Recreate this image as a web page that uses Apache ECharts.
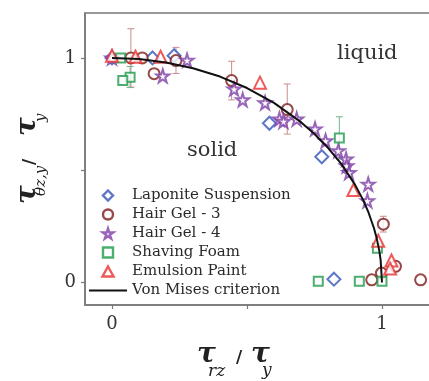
<!DOCTYPE html>
<html><head><meta charset="utf-8">
<script src="https://cdn.jsdelivr.net/npm/echarts@6/dist/echarts.min.js"></script>
<style>html,body{margin:0;padding:0;background:#fff}#c{width:429px;height:381px}</style>
</head><body><div id="c"></div>
<script>
// ---- data ----
const seriesNames = ['Laponite Suspension', 'Hair Gel - 3', 'Hair Gel - 4', 'Shaving Foam', 'Emulsion Paint', 'Von Mises criterion'];
const laponite = [[0.0,1.0],[0.15,1.0],[0.23,1.01],[0.583,0.709],[0.777,0.56],[0.822,0.015]];
const hairGel3 = [[0.07,1.0],[0.112,1.0],[0.156,0.93],[0.237,0.988],[0.443,0.899],[0.649,0.77],[1.005,0.26],[1.05,0.072],[0.998,0.042],[0.962,0.012],[1.143,0.012]];
const hairGel4 = [[0.0,1.0],[0.188,0.92],[0.278,0.99],[0.452,0.862],[0.484,0.814],[0.567,0.80],[0.62,0.728],[0.635,0.718],[0.684,0.728],[0.752,0.684],[0.791,0.631],[0.838,0.587],[0.867,0.55],[0.869,0.52],[0.878,0.49],[0.949,0.438],[0.946,0.364]];
const shavingFoam = [[0.032,1.0],[0.067,0.914],[0.04,0.90],[0.842,0.643],[0.983,0.153],[0.764,0.006],[0.916,0.006],[1.0,0.006]];
const emulsionPaint = [[0.0,1.01],[0.087,1.005],[0.18,1.005],[0.548,0.89],[0.894,0.412],[0.986,0.186],[1.035,0.098],[1.03,0.062]];
const vonMisesX = [0,0.1,0.2,0.3,0.4,0.5,0.6,0.7,0.75,0.8,0.85,0.9,0.93,0.95,0.97,0.98,0.99,0.995,1.0];
const vonMisesY = [1.0,0.995,0.98,0.954,0.917,0.866,0.8,0.714,0.661,0.6,0.527,0.436,0.368,0.312,0.243,0.199,0.141,0.1,0.0];
// error bars: [x, low, high]
const hairGel3Err = [[0.07,0.87,1.13],[0.237,0.931,1.047],[0.443,0.813,0.985],[0.649,0.661,0.884],[1.005,0.225,0.295]];
const shavingFoamErr = [[0.067,0.868,0.962],[0.842,0.55,0.738]];
const xTickValues = [0, 0.5, 1];
const xLabelValues = [0, 1];
const yTickValues = [0, 0.5, 1];
const yLabelValues = [0, 1];

const colors = ['#3355bb', '#7d1b1b', '#7e3ea6', '#1f9b4c', '#e8312f', '#111111'];
const STAR = 'path://M50,0 L61,35 L98,35 L68,57 L79,91 L50,70 L21,91 L32,57 L2,35 L39,35 Z';
const DIAMOND = 'path://M5,0 L10,5 L5,10 L0,5 Z';
const TRIANGLE = 'path://M5,0 L10,9 L0,9 Z';
const SQUARE = 'path://M0,0 L10,0 L10,10 L0,10 Z';
const CIRCLE = 'circle';
const LINEICON = 'path://M0,0 L38,0 L38,2 L0,2 Z';
const legendIcons = [DIAMOND, CIRCLE, STAR, SQUARE, TRIANGLE, LINEICON];
const SERIF = '"DejaVu Serif", serif';

function errSeries(data, color) {
  return {
    type: 'custom', z: 1, silent: true,
    data: data,
    encode: { x: 0, y: [1, 2] },
    renderItem: function (params, api) {
      const x = api.value(0);
      const p1 = api.coord([x, api.value(1)]);
      const p2 = api.coord([x, api.value(2)]);
      const c = 3.5;
      const st = { stroke: color, lineWidth: 1 };
      return { type: 'group', children: [
        { type: 'line', shape: { x1: p1[0], y1: p1[1], x2: p2[0], y2: p2[1] }, style: st },
        { type: 'line', shape: { x1: p1[0] - c, y1: p1[1], x2: p1[0] + c, y2: p1[1] }, style: st },
        { type: 'line', shape: { x1: p2[0] - c, y1: p2[1], x2: p2[0] + c, y2: p2[1] }, style: st }
      ] };
    }
  };
}
function scat(name, data, symbol, size, color) {
  return {
    name: name, type: 'scatter', data: data, symbol: symbol, symbolSize: size, z: 3,
    itemStyle: { color: '#fff', borderColor: color, borderWidth: 2 }
  };
}
const vonMises = vonMisesX.map((x, i) => [x, vonMisesY[i]]);

const axisCommon = {
  type: 'value', min: -0.1, max: 1.2,
  splitLine: { show: false },
  axisLine: { show: true, onZero: false, lineStyle: { color: '#777', width: 1.5 } },
  axisTick: { show: true, length: 4, lineStyle: { color: '#777', width: 1.2 } },
};

const option = {
  animation: false,
  backgroundColor: '#fff',
  grid: { left: 85, top: 13, right: -7, bottom: 76, show: true, borderColor: '#777', borderWidth: 1.5, containLabel: false, outerBoundsMode: 'none' },
  xAxis: Object.assign({}, axisCommon, {
    axisTick: Object.assign({}, axisCommon.axisTick, { customValues: xTickValues }),
    axisLabel: { customValues: xLabelValues, margin: 10, fontFamily: SERIF, fontSize: 18, color: '#333' }
  }),
  yAxis: Object.assign({}, axisCommon, {
    axisTick: Object.assign({}, axisCommon.axisTick, { customValues: yTickValues }),
    axisLabel: { customValues: yLabelValues, margin: 9, fontFamily: SERIF, fontSize: 18, color: '#333' }
  }),
  legend: {
    data: seriesNames.map((n, i) => ({ name: n, icon: legendIcons[i] })),
    orient: 'vertical', left: 89, top: 188, padding: 0,
    itemWidth: 38, itemHeight: 10, itemGap: 4, symbolKeepAspect: true,
    itemStyle: { borderWidth: 2.4 },
    textStyle: { fontFamily: SERIF, fontSize: 15, color: '#2a2a2a' }
  },
  series: [
    errSeries(hairGel3Err, '#c98c8c'),
    errSeries(shavingFoamErr, '#74b58e'),
    scat(seriesNames[0], laponite, 'diamond', 13, colors[0]),
    scat(seriesNames[1], hairGel3, 'circle', 11, colors[1]),
    scat(seriesNames[2], hairGel4, STAR, 13, colors[2]),
    scat(seriesNames[3], shavingFoam, 'rect', 9, colors[3]),
    scat(seriesNames[4], emulsionPaint, 'triangle', 12, colors[4]),
    { name: seriesNames[5], type: 'line', data: vonMises, symbol: 'none', z: 4,
      lineStyle: { color: colors[5], width: 2 }, itemStyle: { color: colors[5], borderWidth: 0 } }
  ],
  graphic: [
    { type: 'text', x: 337, y: 54, style: { text: 'liquid', font: '21px ' + SERIF, fill: '#333', align: 'left', verticalAlign: 'middle' } },
    { type: 'text', x: 187, y: 151, style: { text: 'solid', font: '21px ' + SERIF, fill: '#333', align: 'left', verticalAlign: 'middle' } },
    // x-axis title
    { type: 'text', x: 197, y: 355, style: { text: 'τ', font: 'italic bold 28px ' + SERIF, fill: '#222', align: 'left', verticalAlign: 'middle' } },
    { type: 'text', x: 208, y: 372, style: { text: 'rz', font: 'italic 17px ' + SERIF, fill: '#222', align: 'left', verticalAlign: 'middle' } },
    { type: 'text', x: 236, y: 358, style: { text: '/', font: 'bold 17px ' + SERIF, fill: '#222', align: 'left', verticalAlign: 'middle' } },
    { type: 'text', x: 251, y: 355, style: { text: 'τ', font: 'italic bold 28px ' + SERIF, fill: '#222', align: 'left', verticalAlign: 'middle' } },
    { type: 'text', x: 262, y: 371, style: { text: 'y', font: 'italic 17px ' + SERIF, fill: '#222', align: 'left', verticalAlign: 'middle' } },
    // y-axis title (rotated)
    { type: 'group', x: 37, y: 205, rotation: Math.PI / 2, children: [
      { type: 'text', x: 1, y: -9.7, style: { text: 'τ', font: 'italic bold 28px ' + SERIF, fill: '#222', align: 'left', verticalAlign: 'middle' } },
      { type: 'text', x: 9, y: 4.5, style: { text: 'θz,y', font: 'italic 15px ' + SERIF, fill: '#222', align: 'left', verticalAlign: 'middle' } },
      { type: 'text', x: 40, y: -7, style: { text: '/', font: 'bold 17px ' + SERIF, fill: '#222', align: 'left', verticalAlign: 'middle' } },
      { type: 'text', x: 69, y: -9.7, style: { text: 'τ', font: 'italic bold 28px ' + SERIF, fill: '#222', align: 'left', verticalAlign: 'middle' } },
      { type: 'text', x: 83, y: 4.5, style: { text: 'y', font: 'italic 15px ' + SERIF, fill: '#222', align: 'left', verticalAlign: 'middle' } }
    ] }
  ]
};
const chart = echarts.init(document.getElementById('c'), null, { renderer: 'canvas' });
chart.setOption(option);
</script>
</body></html>
